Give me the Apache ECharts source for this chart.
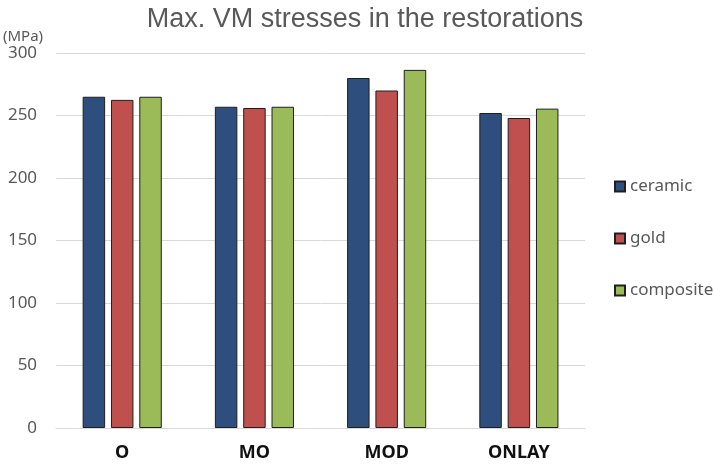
<!DOCTYPE html>
<html>
<head>
<meta charset="utf-8">
<script src="https://cdn.jsdelivr.net/npm/echarts@6/dist/echarts.min.js"></script>
<style>html,body{margin:0;padding:0;background:#fff}#c{width:714px;height:469px}</style>
</head>
<body>
<div id="c"></div>
<script>
const categories = ['O', 'MO', 'MOD', 'ONLAY'];
const ceramic = [265, 257, 280, 252];
const gold = [262.5, 256, 270, 248];
const composite = [265, 257, 286.5, 255.5];
const yTicks = [0, 50, 100, 150, 200, 250, 300];

const chart = echarts.init(document.getElementById('c'));
const border = {borderColor: '#1f1f1f', borderWidth: 1};
chart.setOption({
  animation: false,
  title: {
    text: 'Max. VM stresses in the restorations',
    left: 360, top: 1, textAlign: 'center',
    textStyle: {fontFamily: 'Liberation Sans', fontWeight: 'normal', fontSize: 27, color: '#595959'}
  },
  legend: {
    orient: 'vertical', left: 609, top: 173, itemGap: 35,
    itemWidth: 10, itemHeight: 10, icon: 'rect',
    textStyle: {fontFamily: 'Noto Sans', fontSize: 17, color: '#595959'},
    data: ['ceramic', 'gold', 'composite']
  },
  grid: {left: 53, right: 129, top: 53, bottom: 41, containLabel: false},
  xAxis: {
    type: 'category', data: categories,
    axisLine: {lineStyle: {color: '#d9d9d9'}},
    axisTick: {show: false},
    axisLabel: {fontFamily: 'Noto Sans', fontWeight: 'bold', fontSize: 18, color: '#111', margin: 16}
  },
  yAxis: {
    type: 'value', min: yTicks[0], max: yTicks[yTicks.length - 1], interval: 50,
    name: '(MPa)', nameLocation: 'end', nameGap: 12,
    nameTextStyle: {fontFamily: 'Noto Sans', fontSize: 15, color: '#595959', align: 'right', verticalAlign: 'middle', padding: [0, 13, 0, 0]},
    axisLine: {show: false}, axisTick: {show: false},
    splitLine: {lineStyle: {color: '#d9d9d9'}},
    axisLabel: {fontFamily: 'Noto Sans', fontSize: 17, color: '#595959', margin: 19}
  },
  series: [
    {name: 'ceramic', type: 'bar', data: ceramic, barWidth: '17%', barGap: '26%', itemStyle: Object.assign({color: '#2E4E7E'}, border)},
    {name: 'gold', type: 'bar', data: gold, barWidth: '17%', barGap: '26%', itemStyle: Object.assign({color: '#C0504D'}, border)},
    {name: 'composite', type: 'bar', data: composite, barWidth: '17%', barGap: '26%', itemStyle: Object.assign({color: '#9BBB59'}, border)}
  ]
});
</script>
</body>
</html>
